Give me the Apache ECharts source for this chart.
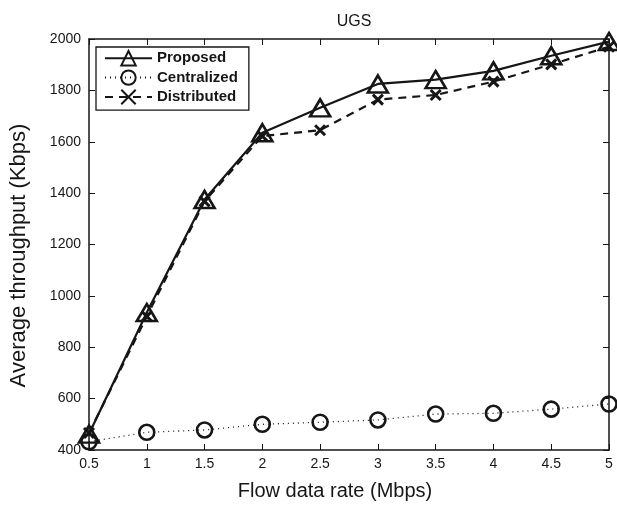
<!DOCTYPE html>
<html><head><meta charset="utf-8">
<script src="https://cdn.jsdelivr.net/npm/echarts@6/dist/echarts.min.js"></script>
<style>html,body{margin:0;padding:0;background:#fff}#c{width:617px;height:510px}</style>
</head><body><div id="c"></div>
<script>
const rates = [0.5, 1, 1.5, 2, 2.5, 3, 3.5, 4, 4.5, 5];
const proposed = [462, 935, 1375, 1635, 1732, 1825, 1842, 1876, 1935, 1990];
const centralized = [432, 469, 478, 500, 508, 517, 540, 543, 559, 579];
const distributed = [466, 920, 1368, 1622, 1645, 1764, 1782, 1834, 1901, 1970];
const xTicks = [0.5, 1, 1.5, 2, 2.5, 3, 3.5, 4, 4.5, 5];
const yTicks = [400, 600, 800, 1000, 1200, 1400, 1600, 1800, 2000];

const F = '"Liberation Sans", Arial, Helvetica, sans-serif';
const ink = '#161616';
const pair = a => rates.map((x, i) => [x, a[i]]);
const crossPath = 'path://M0,0L10,10M10,0L0,10';

const axisCommon = {
  axisLine: {show: true, onZero: false, lineStyle: {color: ink, width: 1.5}},
  axisTick: {show: true, inside: true, length: 6, lineStyle: {color: ink, width: 1}},
  splitLine: {show: false}
};
const chart = echarts.init(document.getElementById('c'));
chart.setOption({
  animation: false,
  backgroundColor: '#fff',
  title: {text: 'UGS', left: 349, top: 9, textAlign: 'center',
    textStyle: {fontFamily: F, fontSize: 16, fontWeight: 'normal', color: ink}},
  grid: {left: 88, right: 8, top: 39, bottom: 60},
  legend: {
    left: 96, top: 47, orient: 'vertical', itemGap: 3, itemWidth: 47, itemHeight: 18,
    padding: [3, 11, 5, 8],
    borderColor: ink, borderWidth: 1.3, backgroundColor: '#fff',
    textStyle: {fontFamily: F, fontSize: 15, fontWeight: 'bold', color: ink},
    data: ['Proposed', 'Centralized', 'Distributed']
  },
  xAxis: [
    Object.assign({type: 'value', min: 0.5, max: 5, interval: 0.5, position: 'bottom',
      name: 'Flow data rate (Mbps)', nameLocation: 'middle', nameGap: 31,
      nameTextStyle: {fontFamily: F, fontSize: 20, color: ink, padding: [0, 28, 0, 0]},
      axisLabel: {fontFamily: F, fontSize: 14, color: ink, margin: 7,
        formatter: v => xTicks.indexOf(v) >= 0 ? String(v) : ''}}, axisCommon),
    Object.assign({type: 'value', min: 0.5, max: 5, interval: 0.5, position: 'top',
      axisLabel: {show: false}}, axisCommon)
  ],
  yAxis: [
    Object.assign({type: 'value', min: 400, max: 2000, interval: 200, position: 'left',
      name: 'Average throughput (Kbps)', nameLocation: 'middle', nameGap: 59,
      nameTextStyle: {fontFamily: F, fontSize: 22, color: ink, padding: [0, 22, 0, 0]},
      axisLabel: {fontFamily: F, fontSize: 14, color: ink, margin: 8,
        formatter: v => yTicks.indexOf(v) >= 0 ? String(v) : ''}}, axisCommon),
    Object.assign({type: 'value', min: 400, max: 2000, interval: 200, position: 'right',
      axisLabel: {show: false}}, axisCommon)
  ],
  series: [
    {name: 'Centralized', type: 'line', data: pair(centralized), symbol: 'circle', symbolSize: 15,
      lineStyle: {color: ink, width: 1.3, type: [1, 4]},
      itemStyle: {color: 'rgba(255,255,255,0)', borderColor: ink, borderWidth: 2.6}, z: 3},
    {name: 'Distributed', type: 'line', data: pair(distributed), symbol: crossPath, symbolSize: 10,
      lineStyle: {color: ink, width: 2.2, type: [8, 6]},
      itemStyle: {color: 'rgba(255,255,255,0)', borderColor: ink, borderWidth: 3}, z: 4},
    {name: 'Proposed', type: 'line', data: pair(proposed), symbol: 'triangle', symbolSize: [20, 17],
      lineStyle: {color: ink, width: 2.2},
      itemStyle: {color: 'rgba(255,255,255,0)', borderColor: ink, borderWidth: 2.6}, z: 5}
  ]
});
</script></body></html>
